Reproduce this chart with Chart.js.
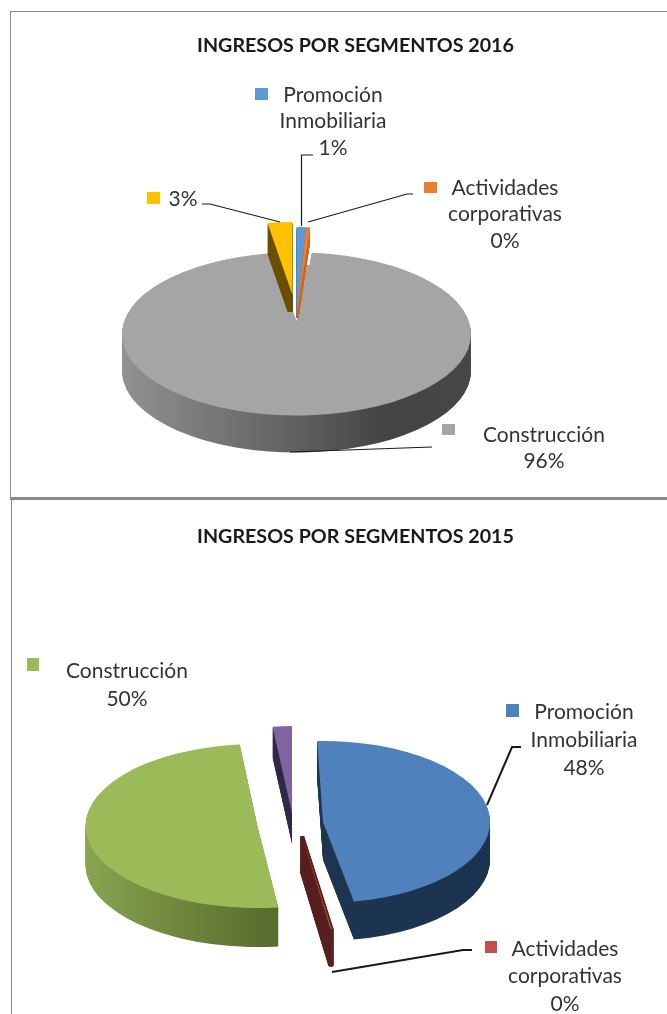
<!DOCTYPE html>
<html lang="es">
<head>
<meta charset="utf-8">
<title>Ingresos por segmentos</title>
<style>
    html, body { margin: 0; padding: 0; background: #fff; }
    #page { position: relative; width: 667px; height: 1014px; overflow: hidden; }
    canvas { position: absolute; left: 0; }
    .linea { position: absolute; background: #8a8a8a; }
</style>
<script src="https://cdn.jsdelivr.net/npm/chart.js@4"></script>
</head>
<body>
<div id="page">
    <div class="linea" style="left:10px;top:11px;width:657px;height:1px"></div>
    <div class="linea" style="left:10px;top:11px;width:1px;height:487px"></div>
    <div class="linea" style="left:10px;top:497px;width:657px;height:3px"></div>
    <div class="linea" style="left:11px;top:500px;width:1px;height:514px"></div>
    <canvas id="grafico2016" width="667" height="497" style="top:0"></canvas>
    <canvas id="grafico2015" width="667" height="514" style="top:500px"></canvas>
</div>
<script>
// datos
const categorias2016 = ['Promoción Inmobiliaria', 'Actividades corporativas', 'Construcción', ''];
const valores2016 = [1, 0.4, 96, 2.6];
const caras2016 = ['#5b9bd5', '#ed7d31', '#a5a5a5', '#ffc000'];

const categorias2015 = ['Promoción Inmobiliaria', 'Actividades corporativas', 'Construcción', ''];
const valores2015 = [47.6, 0.1, 50.3, 2];
const caras2015 = ['#4f81bd', '#c0504d', '#9bbb59', '#8064a2'];

const FUENTE = 'Lato, "Open Sans", sans-serif';

// forma 3D de cada porcion: la escala elíptica, el desplazamiento y la pared
const forma2016 = {
    top: 0,
    centro: [296.5, 334],
    orden: [2, 3, 0, 1],
    desplazar: [[0, -18], [0, -18], [0, 0], [-4, -39]],
    radioX: [155, 155, 174.5, 154],
    radioY: [89, 89, 81.5, 73],
    giro: [0, 0, 0, 0],
    fondo: [8, 16, 37, 31],
    limite: [318, 318, null, 312],
    bordePared: [0, 0, 0, 0],
    paredes: [
        ['#3d6f9f'],
        ['#c8682a'],
        ['#929292', '#787878', '#606060', '#444444', '#474747'],
        ['#6b5000']
    ],
    // el vertice de la porcion grande queda mas arriba por la perspectiva
    vertice: { indice: 2, y: 321, recorte: [282, 265, 30, 80] }
};

const forma2015 = {
    top: 500,
    centro: [298, 817],
    orden: [0, 1, 2, 3],
    desplazar: [[25, 5], [4, 18], [-40.5, 9], [-6, -4]],
    radioX: [167, 198, 172, 155],
    radioY: [81, 95, 82, 87],
    giro: [-2, 0, 1.3, 0],
    fondo: [38, 37, 39, 31],
    limite: [null, null, null, null],
    bordePared: [0, 5, 0, 0],
    paredes: [
        ['#263e60', '#1e3552', '#1c3350'],
        ['#57211f'],
        ['#89a552', '#6a8239', '#4f6228', '#4f6228'],
        ['#332a4a']
    ]
};

const rotulos2016 = [
    { x: 333, y: 95, alto: 26.5, cuadro: [255, 88, 13, 12], guia: [[301.5, 226], [301.5, 155], [313, 155]] },
    { x: 505, y: 188, alto: 26.5, cuadro: [424, 182, 13, 11], guia: [[308, 222], [407, 194], [413, 194]] },
    { x: 544, y: 435, alto: 26.5, cuadro: [442, 424, 13, 11], guia: [[290, 452], [432, 447]] },
    { x: 183, y: 199, alto: 26.5, cuadro: [147, 192, 13, 12], guia: [[202, 204], [210, 204], [280, 222]] }
];

const rotulos2015 = [
    { x: 584, y: 712, alto: 28, cuadro: [506, 704, 13, 13], guia: [[487, 805], [512, 747], [521, 747]] },
    { x: 565, y: 949, alto: 27.5, cuadro: [485, 941, 12, 12], guia: [[332, 972], [463, 950], [472, 950]] },
    { x: 127, y: 671, alto: 28, cuadro: [27, 658, 12, 13], guia: [] },
    null
];

function dibujarPorcion(ctx, arco, forma, i, cx, cy) {
    const r = arco.outerRadius;
    ctx.save();
    ctx.translate(cx, cy);
    ctx.scale(forma.radioX[i] / r, forma.radioY[i] / r);
    ctx.rotate(forma.giro[i] * Math.PI / 180);
    ctx.translate(-arco.x, -arco.y);
    arco.draw(ctx);
    ctx.restore();
}

function colorPared(ctx, arco, colores) {
    if (colores.length === 1) {
        return colores[0];
    }
    const g = ctx.createLinearGradient(arco.x - arco.outerRadius, 0, arco.x + arco.outerRadius, 0);
    colores.forEach((c, n) => g.addColorStop(n / (colores.length - 1), c));
    return g;
}

function pastel3d(forma, rotulos, grosorGuia) {
    return {
        id: 'pastel3d',

        beforeDatasetsDraw(chart) {
            const ctx = chart.ctx;
            const arcos = chart.getDatasetMeta(0).data;

            ctx.save();
            ctx.translate(0, -forma.top);

            forma.orden.forEach(i => {
                const arco = arcos[i];
                const cx = forma.centro[0] + forma.desplazar[i][0];
                const cy = forma.centro[1] + forma.desplazar[i][1];
                const caraOpts = arco.options;
                const pared = colorPared(ctx, arco, forma.paredes[i]);

                ctx.save();
                if (forma.limite[i] !== null) {
                    ctx.beginPath();
                    ctx.rect(0, 0, chart.width, forma.limite[i]);
                    ctx.clip();
                }
                arco.options = Object.assign({}, caraOpts, {
                    backgroundColor: pared,
                    borderColor: pared,
                    borderWidth: forma.bordePared[i]
                });
                for (let d = forma.fondo[i]; d >= 1; d--) {
                    dibujarPorcion(ctx, arco, forma, i, cx, cy + d);
                }
                arco.options = caraOpts;
                ctx.restore();

                dibujarPorcion(ctx, arco, forma, i, cx, cy);

                if (forma.vertice && forma.vertice.indice === i) {
                    const v = forma.vertice;
                    ctx.save();
                    ctx.beginPath();
                    ctx.rect(v.recorte[0], v.recorte[1], v.recorte[2], v.recorte[3]);
                    ctx.clip();
                    dibujarPorcion(ctx, arco, forma, i, cx, v.y);
                    ctx.restore();
                }
            });

            ctx.restore();
            return false;
        },

        afterDraw(chart) {
            const ctx = chart.ctx;
            const valores = chart.data.datasets[0].data;
            const colores = chart.data.datasets[0].backgroundColor;
            const total = valores.reduce((a, b) => a + b, 0);

            ctx.save();
            ctx.translate(0, -forma.top);

            rotulos.forEach((rotulo, i) => {
                if (!rotulo) {
                    return;
                }

                if (rotulo.guia.length) {
                    ctx.beginPath();
                    rotulo.guia.forEach((p, n) => {
                        if (n === 0) ctx.moveTo(p[0], p[1]);
                        else ctx.lineTo(p[0], p[1]);
                    });
                    ctx.strokeStyle = '#1a1a1a';
                    ctx.lineWidth = grosorGuia;
                    ctx.stroke();
                }

                ctx.fillStyle = colores[i];
                ctx.fillRect(rotulo.cuadro[0], rotulo.cuadro[1], rotulo.cuadro[2], rotulo.cuadro[3]);

                const lineas = chart.data.labels[i].split(' ').filter(t => t);
                lineas.push(Math.round(valores[i] / total * 100) + '%');

                ctx.font = '21px ' + FUENTE;
                ctx.fillStyle = '#333333';
                ctx.textAlign = 'center';
                ctx.textBaseline = 'middle';
                lineas.forEach((t, n) => {
                    ctx.fillText(t, rotulo.x, rotulo.y + n * rotulo.alto);
                });
            });

            ctx.restore();
        }
    };
}

function crearGrafico(id, titulo, categorias, valores, colores, forma, rotulos, margenTitulo, grosorGuia) {
    return new Chart(document.getElementById(id), {
        type: 'pie',
        data: {
            labels: categorias,
            datasets: [{
                data: valores,
                backgroundColor: colores,
                borderWidth: 0
            }]
        },
        plugins: [pastel3d(forma, rotulos, grosorGuia)],
        options: {
            responsive: false,
            animation: false,
            layout: { padding: { left: 44 } },
            plugins: {
                legend: { display: false },
                tooltip: { enabled: false },
                title: {
                    display: true,
                    text: titulo,
                    color: '#1a1a1a',
                    font: { family: FUENTE, size: 19.7, weight: 'bold' },
                    padding: { top: margenTitulo - 1, bottom: 0 }
                }
            }
        }
    });
}

crearGrafico('grafico2016', 'INGRESOS POR SEGMENTOS 2016', categorias2016, valores2016, caras2016, forma2016, rotulos2016, 35, 1.2);
crearGrafico('grafico2015', 'INGRESOS POR SEGMENTOS 2015', categorias2015, valores2015, caras2015, forma2015, rotulos2015, 26, 2);
</script>
</body>
</html>
